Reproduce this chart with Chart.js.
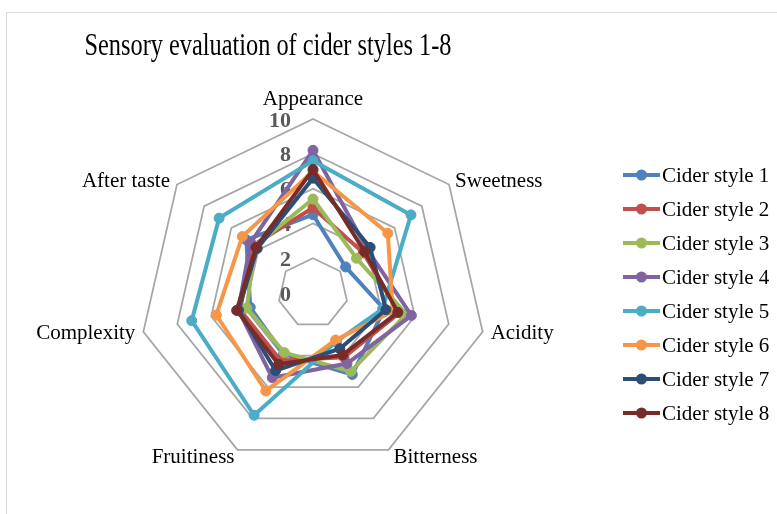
<!DOCTYPE html>
<html lang="en">
<head>
    <meta charset="UTF-8">
    <title>Sensory evaluation of cider styles 1-8</title>
    <script src="https://cdn.jsdelivr.net/npm/chart.js@4.4.1/dist/chart.umd.min.js"></script>
    <style>
        body {
            margin: 0;
            background-color: #ffffff;
        }
        .wrap {
            width: 777px;
            height: 514px;
            position: relative;
        }
    </style>
</head>
<body>
    <div class="wrap">
        <canvas id="radarChart"></canvas>
    </div>

    <script>
        // Categories and tick labels
        const attributes = ['Appearance', 'Sweetness', 'Acidity', 'Bitterness', 'Fruitiness', 'Complexity', 'After taste'];
        const tickValues = [0, 2, 4, 6, 8, 10];

        // Scores per cider style (same order as attributes)
        const style1 = [4.5, 2.4, 4.2, 5.2, 3.9, 3.7, 4.9];
        const style2 = [4.9, 3.7, 5.1, 4.1, 4.3, 4.3, 4.4];
        const style3 = [5.4, 3.2, 5.5, 5.0, 3.8, 3.9, 4.3];
        const style4 = [8.2, 4.0, 5.8, 4.5, 5.4, 4.4, 4.6];
        const style5 = [7.6, 7.2, 4.1, 3.1, 7.8, 7.15, 6.9];
        const style6 = [7.0, 5.5, 4.7, 3.0, 6.25, 5.7, 5.2];
        const style7 = [6.6, 4.2, 4.3, 3.55, 4.95, 4.4, 4.1];
        const style8 = [7.1, 3.8, 5.0, 3.95, 4.55, 4.5, 4.2];

        const seriesNames = ['Cider style 1', 'Cider style 2', 'Cider style 3', 'Cider style 4',
                             'Cider style 5', 'Cider style 6', 'Cider style 7', 'Cider style 8'];
        const seriesData = [style1, style2, style3, style4, style5, style6, style7, style8];
        const colors = ['#4F81BD', '#C0504D', '#9BBB59', '#8064A2', '#4BACC6', '#F79646', '#2C4D75', '#772C2A'];

        const serif = '"Liberation Serif", "DejaVu Serif", serif';

        const datasets = seriesData.map((d, i) => ({
            label: seriesNames[i],
            data: d,
            order: seriesData.length - i, // later series on top, like the original
            fill: false,
            borderColor: colors[i],
            backgroundColor: colors[i],
            borderWidth: 4,
            pointRadius: 5,
            pointBorderWidth: 1,
            pointBackgroundColor: colors[i],
            pointBorderColor: colors[i]
        }));

        // Frame, title, tick labels, point labels and legend
        const decorations = {
            id: 'decorations',
            beforeDraw(chart) {
                const ctx = chart.ctx;
                ctx.save();
                ctx.fillStyle = '#ffffff';
                ctx.fillRect(0, 0, chart.width, chart.height);
                ctx.strokeStyle = '#D9D9D9';
                ctx.lineWidth = 1;
                ctx.beginPath();
                ctx.moveTo(6.5, chart.height);
                ctx.lineTo(6.5, 12.5);
                ctx.lineTo(chart.width, 12.5);
                ctx.stroke();

                // title
                ctx.fillStyle = '#000000';
                ctx.font = '32px ' + serif;
                ctx.textAlign = 'center';
                ctx.textBaseline = 'alphabetic';
                ctx.fillText('Sensory evaluation of cider styles 1-8', 268, 55, 367);
                ctx.restore();
            },
            beforeDatasetsDraw(chart) {
                const ctx = chart.ctx;
                const r = chart.scales.r;
                ctx.save();
                ctx.fillStyle = '#595959';
                ctx.font = 'bold 22px ' + serif;
                ctx.textAlign = 'right';
                ctx.textBaseline = 'middle';
                tickValues.forEach(v => {
                    const d = r.getDistanceFromCenterForValue(v);
                    ctx.fillText(String(v), r.xCenter - 22, r.yCenter - d + 2);
                });
                ctx.restore();
            },
            afterDraw(chart) {
                const ctx = chart.ctx;
                const r = chart.scales.r;
                ctx.save();
                ctx.fillStyle = '#000000';
                ctx.font = '21px ' + serif;
                ctx.textBaseline = 'middle';
                // placement of each category label next to its outer vertex
                const place = [
                    ['center', 0, -20],
                    ['left', 6, -3],
                    ['left', 8, 2],
                    ['left', 5, 8],
                    ['right', -3, 8],
                    ['right', -8, 2],
                    ['right', -7, -3]
                ];
                attributes.forEach((name, i) => {
                    const p = r.getPointPosition(i, r.drawingArea);
                    ctx.textAlign = place[i][0];
                    ctx.fillText(name, p.x + place[i][1], p.y + place[i][2]);
                });

                // legend: line with marker, then name
                const lx = 623, top = 175, step = 34;
                seriesNames.forEach((name, i) => {
                    const y = top + i * step;
                    ctx.strokeStyle = colors[i];
                    ctx.lineWidth = 4;
                    ctx.beginPath();
                    ctx.moveTo(lx, y);
                    ctx.lineTo(lx + 37, y);
                    ctx.stroke();
                    ctx.fillStyle = colors[i];
                    ctx.beginPath();
                    ctx.arc(lx + 18.5, y, 5.5, 0, Math.PI * 2);
                    ctx.fill();
                    ctx.fillStyle = '#000000';
                    ctx.textAlign = 'left';
                    ctx.fillText(name, lx + 39, y + 1);
                });
                ctx.restore();
            }
        };

        new Chart(document.getElementById('radarChart'), {
            type: 'radar',
            data: {
                labels: attributes,
                datasets: datasets
            },
            options: {
                responsive: true,
                maintainAspectRatio: false,
                animation: false,
                layout: {
                    padding: { left: 139, right: 290, top: 119, bottom: 47 }
                },
                elements: {
                    line: { tension: 0 }
                },
                plugins: {
                    legend: { display: false },
                    title: { display: false },
                    tooltip: { enabled: false }
                },
                scales: {
                    r: {
                        min: 0,
                        max: 10,
                        ticks: { stepSize: 2, display: false },
                        grid: { color: '#A6A6A6', lineWidth: 1.75 },
                        angleLines: { display: false },
                        pointLabels: { display: false }
                    }
                }
            },
            plugins: [decorations]
        });
    </script>
</body>
</html>
